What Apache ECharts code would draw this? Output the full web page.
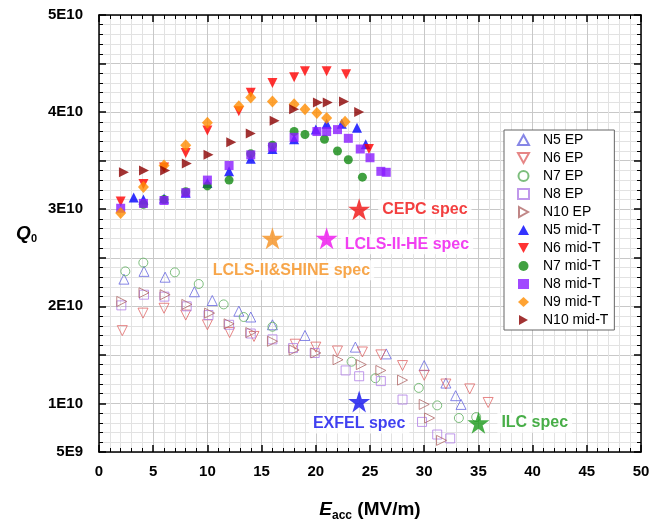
<!DOCTYPE html>
<html>
<head>
<meta charset="utf-8">
<script src="https://cdn.jsdelivr.net/npm/echarts@6/dist/echarts.min.js"></script>
<style>
  html, body { margin: 0; padding: 0; background: #fff; }
  #chart { width: 653px; height: 527px; }
</style>
</head>
<body>
<div id="chart"></div>
<script>
// Eacc (MV/m) vs Q0 (in units of 1E10)
const N5_EP = [[2.3,2.28],[4.15,2.36],[6.1,2.30],[8.8,2.15],[10.45,2.06],[12.9,1.95],[14,1.89],[16,1.81],[19,1.70],[23.65,1.58],[26.5,1.51],[30,1.39],[32,1.21],[32.9,1.08],[33.4,0.99]]
const N6_EP = [[2.15,1.75],[4.06,1.93],[6,1.98],[8,1.91],[10,1.81],[12.05,1.73],[14.3,1.69],[18.1,1.61],[20,1.58],[22,1.54],[24.3,1.53],[26,1.50],[28,1.39],[30,1.29],[32,1.20],[34.2,1.15],[35.9,1.01]]
const N7_EP = [[2.43,2.36],[4.09,2.45],[7,2.35],[9.2,2.23],[11.5,2.02],[13.35,1.89],[16,1.79],[23.3,1.43],[25.5,1.26],[29.5,1.16],[31.2,0.98],[33.2,0.85],[34.8,0.86]]
const N8_EP = [[2.06,2.01],[4.15,2.12],[6.03,2.10],[8.09,2.00],[10.1,1.91],[12,1.81],[14,1.72],[16,1.66],[17.9,1.57],[19.9,1.52],[22.75,1.34],[24,1.28],[26,1.23],[28,1.04],[29.8,0.81],[31.2,0.68],[32.4,0.64]]
const N10_EP = [[2.1,2.05],[4.15,2.14],[6.1,2.12],[8.1,2.02],[10.2,1.93],[12,1.82],[14,1.73],[16,1.64],[18,1.55],[20,1.52],[22.05,1.45],[24.2,1.40],[26,1.34],[28,1.24],[30,0.99],[30.5,0.85],[31.6,0.62]]

const N5_MID = [[3.2,3.12],[4.1,3.10],[6,3.11],[8,3.17],[10,3.27],[12,3.39],[14,3.52],[16,3.62],[18,3.72],[20,3.82],[21,3.88],[22.4,3.88],[23.8,3.84],[24.6,3.67]]
const N6_MID = [[2,3.08],[4.1,3.26],[6,3.43],[8,3.58],[10,3.81],[12.9,4.01],[14,4.20],[16,4.30],[18,4.36],[19,4.42],[21,4.42],[22.8,4.39],[24.9,3.62]]
const N7_MID = [[4.1,3.05],[6,3.10],[8,3.18],[10,3.24],[12,3.30],[14,3.57],[16,3.66],[18,3.80],[19,3.77],[20.8,3.72],[22,3.60],[23,3.51],[24.3,3.33]]
const N8_MID = [[2,3.01],[4.1,3.06],[6,3.09],[8,3.17],[10,3.30],[12,3.45],[14,3.56],[16,3.64],[18,3.74],[20.1,3.80],[21,3.80],[22,3.82],[23,3.73],[24.1,3.62],[25,3.53],[26,3.39],[26.5,3.38]]
const N9_MID = [[2,2.96],[4.1,3.23],[6,3.45],[8,3.66],[10,3.89],[12.9,4.06],[14,4.15],[16,4.11],[18,4.08],[19,4.03],[20.1,3.99],[21,3.94],[22.7,3.90]]
const N10_MID = [[2.3,3.38],[4.15,3.40],[6.1,3.40],[8.1,3.47],[10.1,3.56],[12.2,3.69],[14,3.78],[16.2,3.91],[18,4.03],[20.2,4.10],[21.1,4.10],[22.6,4.11],[24,4.00]]

const specNames = ['CEPC spec', 'LCLS-II-HE spec', 'LCLS-II&SHINE spec', 'EXFEL spec', 'ILC spec']
const specPoints = [[24,3.0],[21,2.7],[16,2.7],[24,1.02],[35,0.8]]

const yTickLabels = { 0.5: '5E9', 1: '1E10', 2: '2E10', 3: '3E10', 4: '4E10', 5: '5E10' }

const TRI_DOWN = 'path://M0,0L10,0L5,9Z'
const TRI_RIGHT = 'path://M0,0L9,5L0,10Z'
const STAR = 'path://M10,0L12.25,6.91L19.51,6.91L13.63,11.18L15.88,18.09L10,13.82L4.12,18.09L6.37,11.18L0.49,6.91L7.75,6.91Z'

const FONT = '"Liberation Sans", Arial, sans-serif'

const scatter = (name, data, symbol, color, hollow, size) => ({
  name,
  type: 'scatter',
  data,
  symbol,
  symbolSize: size,
  itemStyle: hollow
    ? { color: 'rgba(0,0,0,0)', borderColor: color, borderWidth: 1 }
    : { color },
  emphasis: { disabled: true }
})

const specStyle = [
  { color: '#f01010', position: 'right', distance: 8, offset: [0, 0] },
  { color: '#ee10ee', position: 'right', distance: 3, offset: [0, 6] },
  { color: '#f5901e', position: 'bottom', distance: 11, offset: [19, 0] },
  { color: '#1010ee', position: 'bottom', distance: 1, offset: [0, 0] },
  { color: '#1a9a1a', position: 'right', distance: 8, offset: [0, 0] }
]

const specSeries = specNames.map((name, i) => ({
  name,
  type: 'scatter',
  data: [specPoints[i]],
  symbol: STAR,
  symbolSize: 22,
  itemStyle: { color: specStyle[i].color },
  z: 5,
  label: {
    show: true,
    formatter: name,
    position: specStyle[i].position,
    distance: specStyle[i].distance,
    offset: specStyle[i].offset,
    color: specStyle[i].color,
    fontFamily: FONT,
    fontWeight: 'bold',
    fontSize: 16,
    backgroundColor: '#fff',
    padding: [2, 4]
  },
  emphasis: { disabled: true }
}))

const chart = echarts.init(document.getElementById('chart'))

const axisCommon = {
  axisLine: { show: true, onZero: false, lineStyle: { color: '#000', width: 1.5 } },
  axisTick: { show: true, inside: true, length: 7, lineStyle: { color: '#000', width: 1.5 } },
  minorTick: { show: true, splitNumber: 5, length: 4, lineStyle: { color: '#000', width: 1 } },
  splitLine: { show: true, lineStyle: { color: '#c8c8c8', width: 1 } },
  minorSplitLine: { show: true, lineStyle: { color: '#e2e2e2', width: 1 } }
}

const option = {
  animation: false,
  backgroundColor: '#fff',
  grid: { left: 99, right: 12, top: 15, bottom: 75 },
  xAxis: [
    {
      type: 'value', min: 0, max: 50, interval: 5, position: 'bottom',
      ...axisCommon,
      axisLabel: { margin: 12, color: '#000', fontFamily: FONT, fontWeight: 'bold', fontSize: 15 },
      name: '{e|E}{sub|acc}{n| (MV/m)}',
      nameLocation: 'middle',
      nameGap: 45,
      nameTextStyle: {
        rich: {
          e: { fontFamily: FONT, fontWeight: 'bold', fontStyle: 'italic', fontSize: 19, color: '#000' },
          sub: { fontFamily: FONT, fontWeight: 'bold', fontSize: 12, color: '#000', padding: [13, 0, 0, 0] },
          n: { fontFamily: FONT, fontWeight: 'bold', fontSize: 19, color: '#000' }
        }
      }
    },
    {
      type: 'value', min: 0, max: 50, interval: 5, position: 'top',
      ...axisCommon,
      splitLine: { show: false }, minorSplitLine: { show: false },
      axisLabel: { show: false }
    }
  ],
  yAxis: [
    {
      type: 'value', min: 0.5, max: 5, interval: 0.5, position: 'left',
      ...axisCommon,
      axisLabel: {
        margin: 16, color: '#000', fontFamily: FONT, fontWeight: 'bold', fontSize: 15,
        formatter: v => yTickLabels[v] || ''
      },
      name: '{q|Q}{sub|0}',
      nameLocation: 'middle',
      nameRotate: 0,
      nameGap: 62,
      nameTextStyle: {
        rich: {
          q: { fontFamily: FONT, fontWeight: 'bold', fontStyle: 'italic', fontSize: 19, color: '#000' },
          sub: { fontFamily: FONT, fontWeight: 'bold', fontSize: 11, color: '#000', padding: [11, 0, 0, 0] }
        }
      }
    },
    {
      type: 'value', min: 0.5, max: 5, interval: 0.5, position: 'right',
      ...axisCommon,
      splitLine: { show: false }, minorSplitLine: { show: false },
      axisLabel: { show: false }
    }
  ],
  legend: {
    data: ['N5 EP', 'N6 EP', 'N7 EP', 'N8 EP', 'N10 EP', 'N5 mid-T', 'N6 mid-T', 'N7 mid-T', 'N8 mid-T', 'N9 mid-T', 'N10 mid-T'],
    orient: 'vertical',
    left: 504,
    top: 130,
    padding: [3, 6, 3, 13],
    itemWidth: 11,
    itemHeight: 10,
    itemGap: 4,
    backgroundColor: '#fff',
    borderColor: '#666',
    borderWidth: 1,
    textStyle: { fontFamily: FONT, fontSize: 14, color: '#000', lineHeight: 14, padding: [0, 0, 0, 9] }
  },
  series: [
    scatter('N5 EP', N5_EP, 'triangle', '#6868e0', true, 10),
    scatter('N6 EP', N6_EP, TRI_DOWN, '#e06868', true, 10),
    scatter('N7 EP', N7_EP, 'circle', '#5cae5c', true, 9),
    scatter('N8 EP', N8_EP, 'rect', '#b07ee6', true, 9),
    scatter('N10 EP', N10_EP, TRI_RIGHT, '#b06868', true, 10),
    scatter('N5 mid-T', N5_MID, 'triangle', '#0000ff', false, 10),
    scatter('N6 mid-T', N6_MID, TRI_DOWN, '#ff0000', false, 10),
    scatter('N7 mid-T', N7_MID, 'circle', '#118a11', false, 9),
    scatter('N8 mid-T', N8_MID, 'rect', '#8a1cff', false, 9),
    scatter('N9 mid-T', N9_MID, 'diamond', '#ff8c00', false, [11, 12]),
    scatter('N10 mid-T', N10_MID, TRI_RIGHT, '#8b0000', false, 10),
    ...specSeries
  ]
}

chart.setOption(option)
</script>
</body>
</html>
